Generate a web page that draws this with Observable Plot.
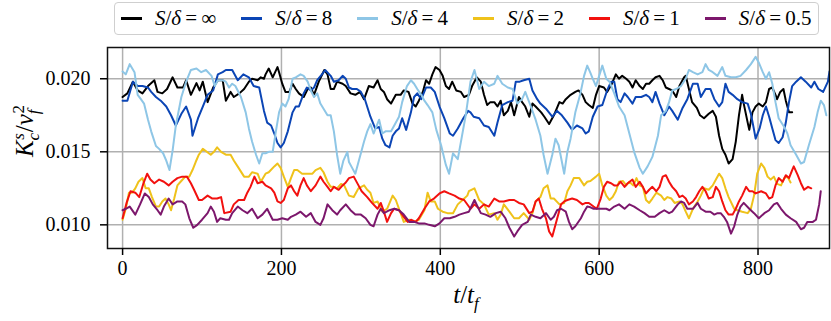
<!DOCTYPE html>
<html>
<head>
<meta charset="utf-8">
<script src="https://cdn.jsdelivr.net/npm/d3@7"></script>
<script src="https://cdn.jsdelivr.net/npm/@observablehq/plot@0.6"></script>
<style>
  body { margin: 0; background: #fff; }
  #wrap { position: relative; width: 831px; height: 321px; }
  #legend {
    position: absolute; left: 114px; top: 2px; height: 33px; box-sizing: border-box;
    border: 1px solid #cfcfcf; border-radius: 4px; background: #fff;
    display: flex; align-items: center; padding: 0 7px 0 6px; color: #000;
  }
  .item { display: flex; align-items: center; margin-right: 25px; white-space: nowrap; }
  .item:last-child { margin-right: 0; }
  .swatch { width: 21px; height: 3px; margin-right: 13px; }
</style>
</head>
<body>
<div id="wrap">
  <div id="chart"></div>
  <div id="legend"></div>
</div>
<script>
// Time in units of t_f, and K_c^s / v_f^2 in units of 1e-3, one list per spacing ratio S/δ.
const seriesLabels = ["∞", "8", "4", "2", "1", "0.5"];
const seriesColors = ["#000000", "#0b45b5", "#8ec6e6", "#efc21b", "#f2110f", "#7c176c"];

const kInf = [[0,18.75],[6,19.0],[13,19.8],[19,19.2],[25,19.0],[32,19.5],[40,19.9],[44,19.1],[50,19.0],[56,19.3],[63,20.1],[69,19.4],[76,19.4],[80,19.9],[86,18.9],[93,19.7],[97,19.2],[101,19.8],[107,18.4],[114,19.4],[120,19.9],[126,19.9],[130,18.5],[136,19.1],[140,18.75],[147,19.0],[153,19.3],[159,19.8],[163,20.0],[170,19.9],[174,20.1],[178,20.0],[180,20.3],[184,20.7],[189,20.1],[195,20.8],[197,20.45],[201,19.66],[205,19.1],[210,19.1],[214,19.66],[218,19.3],[222,19.0],[228,18.75],[233,19.3],[237,19.4],[241,18.9],[247,19.8],[254,20.6],[258,20.3],[262,19.3],[266,19.3],[270,19.8],[277,19.66],[281,19.5],[287,19.0],[293,18.9],[299,19.1],[304,18.6],[310,19.5],[316,19.4],[321,19.9],[325,19.3],[329,19.1],[333,18.6],[338,18.3],[344,18.9],[350,18.9],[354,19.2],[360,19.1],[365,18.3],[369,18.1],[373,18.5],[378,19.1],[382,19.9],[386,19.66],[390,20.3],[394,20.8],[399,20.6],[403,20.2],[407,19.5],[411,19.3],[415,19.8],[420,19.2],[426,19.1],[430,18.75],[436,18.9],[440,19.5],[446,20.1],[451,19.8],[455,18.9],[459,18.2],[463,18.4],[468,18.4],[472,18.1],[476,18.5],[480,17.5],[485,17.8],[489,18.4],[493,17.5],[499,18.75],[503,18.4],[507,18.1],[512,17.4],[516,18.3],[520,18.1],[527,17.7],[531,17.4],[537,16.9],[543,17.5],[550,18.4],[554,18.3],[558,18.6],[564,18.9],[570,19.1],[574,19.2],[579,18.9],[583,18.4],[587,18.2],[592,18.0],[596,18.9],[600,19.5],[606,19.4],[610,19.1],[616,19.66],[621,20.3],[625,20.0],[629,20.2],[634,20.0],[638,19.8],[642,19.4],[646,19.9],[651,19.5],[655,19.3],[659,19.66],[663,19.66],[667,19.9],[671,20.1],[676,20.2],[680,19.9],[684,19.4],[688,19.3],[692,19.2],[697,18.75],[701,19.5],[707,20.1],[709,20.2],[717,18.4],[723,18.0],[727,17.5],[732,17.3],[738,17.6],[743,17.8],[747,17.4],[751,16.1],[755,15.2],[759,14.8],[763,14.2],[768,14.5],[772,15.7],[776,17.5],[780,18.9],[782,18.3],[787,17.0],[789,16.5],[793,17.7],[797,18.1],[801,18.3],[806,18.1],[810,18.4],[814,19.3],[818,19.4],[822,18.9],[824,18.6],[828,19.1],[832,19.3],[835,18.5],[839,17.7],[843,17.7]];

const k8 = [[0,18.5],[6,18.5],[13,19.8],[19,19.5],[25,19.5],[32,19.4],[36,19.1],[42,18.75],[48,18.5],[55,18.1],[61,17.5],[67,16.8],[74,17.6],[80,18.1],[86,17.2],[88,16.1],[95,17.3],[101,18.1],[107,18.9],[114,19.2],[120,20.3],[126,20.45],[130,20.6],[138,20.6],[145,19.9],[152,20.3],[159,20.1],[165,19.5],[172,19.4],[178,17.8],[182,17.0],[187,16.8],[191,16.25],[195,15.6],[199,15.3],[203,15.6],[208,16.4],[214,17.7],[218,18.1],[222,18.1],[228,19.0],[232,19.4],[237,19.2],[241,19.4],[245,19.9],[251,20.3],[255,20.6],[262,20.2],[266,19.8],[272,19.9],[277,20.2],[281,20.0],[285,19.4],[289,19.3],[295,19.3],[300,19.1],[305,18.6],[312,17.4],[318,16.6],[323,16.7],[327,15.9],[331,15.45],[336,15.3],[340,16.1],[344,16.4],[348,16.6],[352,17.3],[357,16.5],[363,17.7],[367,18.75],[371,19.0],[376,18.6],[382,19.4],[388,19.4],[393,19.1],[399,18.1],[405,17.3],[412,16.25],[416,16.1],[422,16.6],[429,17.3],[435,17.8],[438,17.7],[442,17.4],[449,17.3],[455,16.8],[461,16.7],[468,16.1],[472,17.0],[478,18.2],[485,18.4],[491,18.5],[495,19.8],[500,19.8],[505,19.9],[512,20.0],[516,19.2],[522,18.6],[526,18.3],[533,17.95],[541,17.4],[547,17.8],[553,17.5],[560,17.0],[566,16.5],[572,16.8],[579,16.6],[583,16.25],[587,16.4],[592,17.4],[598,18.1],[604,18.2],[610,19.2],[615,19.8],[619,19.8],[623,18.6],[627,18.4],[632,19.0],[636,18.75],[642,18.3],[646,18.75],[653,18.75],[659,18.9],[663,18.75],[667,18.4],[671,19.1],[676,18.3],[682,17.5],[688,18.1],[692,17.8],[699,17.2],[705,18.0],[711,18.6],[718,19.66],[724,19.66],[728,18.75],[734,19.3],[740,19.3],[745,18.6],[751,18.1],[755,18.4],[759,19.66],[763,19.1],[768,18.9],[774,18.6],[780,18.4],[787,18.3],[791,17.6],[795,16.5],[797,15.9],[802,16.6],[806,17.5],[810,18.1],[814,17.4],[818,16.6],[822,15.8],[826,15.6],[831,16.0],[835,17.0],[839,18.4],[843,19.5],[848,19.8],[854,20.1],[860,19.8],[867,19.4],[871,19.8],[876,19.3],[882,19.1],[888,19.8],[890,20.5]];

const k4 = [[0,20.5],[4,20.3],[9,21.0],[15,20.45],[19,18.9],[23,18.6],[27,18.3],[32,17.2],[36,16.4],[42,15.4],[46,15.2],[51,14.9],[55,14.4],[59,13.75],[63,15.1],[67,16.8],[74,18.75],[80,19.8],[86,20.6],[93,20.7],[99,20.45],[105,20.6],[112,20.2],[116,19.5],[120,19.9],[126,19.9],[130,19.8],[134,19.4],[138,19.66],[142,19.5],[149,18.75],[155,17.7],[159,16.6],[163,15.7],[168,14.8],[172,14.2],[176,14.9],[180,14.9],[184,15.0],[189,15.0],[193,16.4],[197,17.7],[201,18.3],[205,18.1],[209,18.6],[214,20.0],[218,20.1],[224,20.3],[228,20.2],[233,19.8],[237,19.2],[241,18.75],[245,19.0],[249,18.3],[253,17.95],[258,17.5],[262,17.5],[266,16.4],[270,14.8],[274,13.5],[278,14.4],[283,15.0],[285,14.3],[289,13.9],[293,13.5],[297,14.3],[304,15.7],[308,16.4],[312,16.9],[316,16.25],[323,17.2],[327,16.25],[331,16.4],[338,16.4],[342,16.8],[348,17.4],[352,18.4],[358,19.5],[363,19.9],[367,19.66],[371,19.3],[376,18.9],[380,18.5],[384,18.2],[390,17.7],[395,16.5],[401,15.45],[407,14.1],[411,13.5],[416,14.9],[422,14.5],[426,15.7],[432,17.5],[438,19.8],[443,20.6],[449,19.3],[455,19.8],[461,19.5],[468,19.66],[472,20.2],[478,19.66],[485,19.4],[491,19.3],[497,18.3],[503,18.6],[507,19.1],[514,18.1],[520,17.2],[526,16.1],[530,14.8],[535,13.5],[541,14.8],[545,15.9],[549,15.45],[556,13.5],[560,15.0],[564,15.9],[570,17.7],[576,18.9],[581,20.2],[585,20.9],[589,20.4],[592,20.0],[596,19.5],[600,20.2],[604,20.9],[609,20.0],[613,19.8],[619,19.0],[625,18.1],[632,17.5],[638,16.25],[644,15.0],[651,13.9],[655,13.5],[661,14.0],[667,14.65],[674,16.1],[678,17.5],[684,17.8],[688,18.4],[692,19.2],[697,19.3],[703,19.5],[709,20.0],[713,20.6],[718,20.45],[724,20.3],[730,20.45],[734,21.0],[738,20.6],[743,20.45],[749,20.2],[755,20.8],[759,20.2],[766,20.1],[772,20.1],[778,20.2],[785,20.6],[791,21.0],[797,21.5],[801,21.1],[806,20.45],[810,20.0],[814,20.45],[818,19.66],[822,18.4],[826,17.3],[833,16.7],[837,16.25],[841,15.45],[848,14.8],[854,14.2],[858,14.3],[864,15.45],[871,16.7],[875,17.7],[879,18.5],[883,18.2],[886,17.5]];

const k2 = [[0,10.35],[4,11.1],[8,12.2],[12,12.2],[16,12.5],[20,12.95],[25,13.2],[29,12.5],[33,12.5],[37,11.9],[42,11.25],[46,11.25],[50,11.6],[54,11.8],[58,11.4],[61,11.0],[65,11.8],[69,12.7],[73,12.95],[79,13.3],[84,13.3],[88,13.75],[92,14.3],[96,14.8],[101,15.2],[106,15.0],[111,14.8],[115,15.0],[119,15.3],[124,15.0],[130,14.8],[136,14.8],[140,14.4],[146,13.9],[153,13.3],[159,13.3],[163,13.6],[170,13.5],[174,12.95],[180,13.5],[184,13.6],[191,14.0],[195,14.2],[199,13.9],[203,13.3],[208,12.6],[212,13.2],[216,13.75],[220,13.75],[226,13.5],[232,13.5],[239,13.5],[243,13.75],[249,13.9],[253,13.6],[258,12.95],[262,12.6],[266,12.6],[270,12.5],[275,12.8],[279,12.7],[285,12.0],[291,11.9],[297,12.5],[304,12.7],[308,12.4],[312,12.2],[316,11.5],[321,11.6],[327,10.9],[333,11.1],[340,12.0],[344,11.7],[348,11.1],[354,10.2],[361,10.35],[367,10.2],[373,10.35],[380,11.0],[384,12.2],[388,11.6],[393,11.6],[397,11.1],[403,10.9],[409,10.8],[416,10.8],[422,11.4],[428,11.7],[434,12.0],[436,12.3],[443,12.5],[449,11.7],[455,11.4],[461,10.7],[468,10.8],[472,10.35],[476,10.7],[480,11.4],[487,10.9],[493,10.45],[499,10.45],[505,10.8],[512,10.35],[516,10.8],[520,11.6],[526,11.9],[530,12.5],[535,12.7],[539,11.8],[543,11.8],[550,11.4],[556,11.5],[560,12.3],[564,12.7],[568,13.2],[575,13.2],[581,12.7],[585,12.95],[589,13.0],[596,13.3],[600,13.5],[604,12.7],[609,12.0],[613,11.7],[617,11.9],[621,12.3],[625,12.95],[630,13.0],[634,12.7],[638,12.95],[643,12.7],[647,13.2],[651,12.7],[655,12.6],[659,11.7],[663,11.5],[667,11.8],[672,12.2],[678,12.0],[682,11.7],[686,11.9],[691,11.8],[695,11.5],[701,11.6],[705,11.4],[709,10.9],[713,10.45],[718,11.1],[724,11.6],[728,12.0],[732,12.5],[738,12.4],[743,12.7],[747,13.1],[751,13.5],[755,13.2],[759,12.5],[763,11.9],[770,11.1],[774,11.0],[780,10.9],[787,10.8],[791,11.1],[795,12.0],[799,13.5],[804,14.2],[808,13.9],[812,13.3],[816,13.1],[820,13.3],[824,12.8],[829,12.7],[833,13.2],[837,13.3],[841,12.9]];

const k1 = [[0,10.45],[5,11.5],[10,12.3],[16,12.2],[21,11.9],[26,12.8],[31,13.5],[35,13.1],[40,12.85],[46,13.1],[52,12.95],[58,12.7],[63,12.95],[69,13.2],[75,13.3],[81,13.3],[86,12.85],[90,12.4],[96,11.7],[100,11.7],[107,12.0],[113,11.8],[119,11.8],[124,11.9],[128,10.8],[136,10.9],[140,11.4],[146,11.7],[153,11.7],[157,12.2],[161,12.6],[166,13.3],[170,12.85],[176,12.95],[180,12.7],[187,12.5],[191,12.2],[195,11.6],[199,11.5],[203,11.7],[208,12.5],[212,12.7],[216,12.3],[220,12.0],[224,12.7],[228,13.2],[232,12.7],[237,12.3],[243,12.7],[249,13.3],[253,12.95],[258,12.6],[262,12.3],[266,12.6],[272,12.4],[277,12.7],[281,12.9],[285,13.2],[291,13.3],[297,12.7],[301,12.3],[308,11.9],[314,11.5],[321,11.1],[325,11.5],[329,10.9],[333,10.2],[338,10.8],[342,11.1],[348,11.0],[354,10.55],[359,10.2],[363,10.35],[369,10.2],[373,10.45],[380,11.1],[386,11.6],[392,11.8],[399,12.15],[405,12.3],[411,12.15],[418,12.0],[424,11.8],[430,11.7],[438,11.1],[443,11.4],[449,11.1],[455,11.4],[461,11.25],[468,11.8],[474,11.6],[480,11.6],[487,11.7],[493,11.7],[499,11.5],[505,11.4],[512,10.8],[516,10.9],[520,11.6],[524,11.8],[528,11.1],[533,10.45],[537,9.55],[541,9.2],[545,10.0],[552,11.4],[556,11.6],[560,11.7],[566,11.8],[572,11.7],[579,11.4],[583,11.5],[587,11.5],[593,11.25],[597,11.1],[602,11.8],[606,12.6],[610,12.95],[615,12.85],[619,12.7],[623,12.7],[627,12.95],[632,12.6],[636,12.85],[642,13.1],[646,12.6],[651,12.95],[655,12.6],[659,12.15],[663,12.4],[667,12.6],[672,12.3],[676,12.6],[680,13.3],[684,13.4],[688,12.95],[692,12.6],[697,12.3],[701,11.9],[705,12.0],[709,11.8],[713,11.4],[718,11.6],[722,11.9],[726,12.3],[730,12.6],[734,12.3],[738,11.8],[743,11.9],[747,12.6],[751,12.3],[755,11.6],[759,11.0],[763,10.7],[768,10.7],[772,11.1],[776,11.6],[780,12.0],[785,12.6],[789,12.3],[793,12.3],[797,12.15],[804,12.3],[810,12.15],[814,11.8],[818,11.9],[822,12.7],[826,13.2],[831,12.95],[835,13.4],[839,13.2],[843,13.75],[845,14.0],[850,13.4],[854,12.85],[858,12.4],[863,12.6],[867,12.5]];

const k05 = [[0,11.0],[4,11.1],[9,11.25],[16,10.7],[22,11.4],[28,12.15],[33,11.9],[38,11.4],[44,11.0],[48,10.7],[52,11.25],[58,11.8],[63,11.4],[69,11.6],[75,11.6],[79,11.4],[84,10.45],[89,9.8],[94,10.0],[100,10.35],[107,10.8],[111,11.25],[115,10.9],[119,10.2],[123,10.45],[130,10.35],[134,10.35],[138,10.8],[145,11.25],[151,11.0],[157,10.8],[163,11.1],[170,10.45],[176,10.7],[182,11.1],[189,10.35],[195,10.35],[201,10.45],[208,10.35],[212,10.55],[218,10.7],[224,10.9],[231,10.55],[237,10.8],[243,10.2],[249,10.0],[253,10.45],[258,11.4],[264,11.0],[270,10.7],[274,11.0],[281,11.4],[287,11.0],[293,10.7],[300,10.7],[306,10.45],[312,10.0],[316,9.9],[321,10.7],[325,11.1],[329,10.8],[336,11.0],[342,11.1],[348,11.0],[354,10.7],[361,10.2],[367,10.2],[373,10.1],[380,10.1],[386,10.0],[393,9.9],[399,10.1],[405,10.45],[412,10.45],[418,10.55],[424,10.7],[430,10.8],[436,10.9],[443,11.7],[447,11.25],[451,10.8],[457,10.7],[463,10.55],[470,10.8],[476,10.9],[482,10.45],[487,9.8],[493,9.2],[497,9.55],[503,10.0],[510,10.2],[514,10.7],[520,10.55],[526,10.45],[533,10.8],[539,10.35],[543,10.55],[547,11.0],[552,11.1],[558,10.9],[562,10.2],[566,9.7],[570,9.9],[577,10.45],[581,10.9],[585,11.25],[589,11.2],[593,11.1],[600,11.1],[609,11.1],[613,11.0],[619,11.25],[625,11.4],[632,11.1],[638,11.4],[644,11.25],[651,11.0],[657,10.8],[663,10.55],[670,10.55],[676,10.8],[682,11.0],[688,10.8],[692,10.9],[699,11.4],[703,11.6],[707,11.5],[711,11.1],[718,11.1],[724,11.5],[728,11.1],[734,10.9],[740,10.9],[745,10.7],[749,10.8],[753,10.8],[757,10.55],[761,10.2],[766,9.4],[770,9.9],[774,10.7],[778,11.25],[782,11.5],[789,11.1],[795,10.8],[801,10.45],[808,10.8],[814,11.0],[820,11.4],[824,11.5],[829,11.1],[835,10.7],[841,10.45],[848,10.2],[854,9.7],[858,9.8],[862,10.2],[869,10.2],[873,10.35],[877,11.4],[879,12.3]];

const xTicks = [0, 200, 400, 600, 800];
const yTicks = [0.010, 0.015, 0.020];

const allSeries = [kInf, k8, k4, k2, k1, k05];
const serif = "'Liberation Serif'";

const chart = Plot.plot({
  width: 831,
  height: 321,
  marginLeft: 107,
  marginRight: 2,
  marginTop: 47,
  marginBottom: 73,
  style: { fontFamily: serif, fontSize: "20px", color: "#000", background: "#fff", overflow: "visible" },
  x: { domain: [-19, 890] },
  y: { domain: [0.00838, 0.02214] },
  marks: [
    Plot.gridX(xTicks, { stroke: "#b0b0b0", strokeOpacity: 1, strokeWidth: 1.5 }),
    Plot.gridY(yTicks, { stroke: "#b0b0b0", strokeOpacity: 1, strokeWidth: 1.5 }),
    ...allSeries.map((s, i) => Plot.line(s, {
      x: d => d[0],
      y: d => d[1] / 1000,
      stroke: seriesColors[i],
      strokeWidth: 2,
      clip: true
    })),
    Plot.frame({ stroke: "#111", strokeWidth: 1.5 }),
    Plot.axisX(xTicks, { tickSize: 7, tickPadding: 5, strokeWidth: 1.5, label: null, tickFormat: d => String(d) }),
    Plot.axisY(yTicks, { tickSize: 7, tickPadding: 10, strokeWidth: 1.5, label: null, tickFormat: d3.format(".3f") })
  ]
});
document.getElementById("chart").appendChild(chart);

// Axis titles with math-style sub/superscripts
const svg = d3.select(chart);
const yl = svg.append("text")
  .attr("transform", "translate(33,131) rotate(-90)")
  .attr("text-anchor", "middle")
  .attr("font-size", 25)
  .attr("fill", "#000");
yl.append("tspan").attr("font-style", "italic").text("K");
yl.append("tspan").attr("font-style", "italic").attr("font-size", 17).attr("dy", 6).text("c");
yl.append("tspan").attr("font-style", "italic").attr("font-size", 17).attr("dx", -7).attr("dy", -15).text("s");
yl.append("tspan").attr("dy", 9).attr("dx", 1).text("/");
yl.append("tspan").attr("font-style", "italic").text("v");
yl.append("tspan").attr("font-style", "italic").attr("font-size", 17).attr("dy", 6).text("f");
yl.append("tspan").attr("font-size", 17).attr("dx", -4).attr("dy", -15).text("2");

const xl = svg.append("text")
  .attr("x", 466).attr("y", 303)
  .attr("text-anchor", "middle")
  .attr("font-size", 25)
  .attr("fill", "#000");
xl.append("tspan").attr("font-style", "italic").text("t");
xl.append("tspan").text("/");
xl.append("tspan").attr("font-style", "italic").text("t");
xl.append("tspan").attr("font-style", "italic").attr("font-size", 17).attr("dy", 6).text("f");

// Serif face on every SVG text node
svg.selectAll("text, tspan").style("font-family", serif);

// Legend row
const legend = d3.select("#legend").style("font-family", serif).style("font-size", "21px");
seriesLabels.forEach((lab, i) => {
  const item = legend.append("div").attr("class", "item").style("font-family", serif);
  item.append("div").attr("class", "swatch").style("background", seriesColors[i]);
  const t = item.append("span").style("font-family", serif).style("font-size", "21px");
  t.append("i").style("font-family", serif).text("S");
  t.append("span").style("font-family", serif).text("/");
  t.append("i").style("font-family", serif).text("δ");
  t.append("span").style("font-family", serif).text("\u2009=\u2009" + lab);
});
</script>
</body>
</html>
